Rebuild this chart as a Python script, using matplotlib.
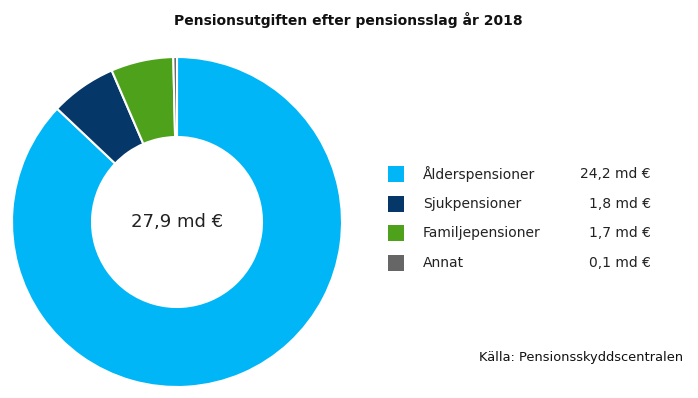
import matplotlib.pyplot as plt
from matplotlib.patches import Rectangle

# data
labels = ["Ålderspensioner", "Sjukpensioner", "Familjepensioner", "Annat"]
values = [24.2, 1.8, 1.7, 0.1]
value_labels = ["24,2 md €", "1,8 md €", "1,7 md €", "0,1 md €"]
total_label = "27,9 md €"
colors = ["#00b6f7", "#053769", "#4ea21b", "#666666"]

W, H = 698, 398
fig = plt.figure(figsize=(W / 100, H / 100), dpi=100)
plt.rcParams['font.family'] = ['Verdana', 'DejaVu Sans']

# donut
cx, cy, r = 177, 222, 165
ax = fig.add_axes([(cx - r) / W, (H - cy - r) / H, 2 * r / W, 2 * r / H])
ax.pie(values, colors=colors, startangle=90, counterclock=False, radius=1,
       wedgeprops=dict(width=80 / 165, edgecolor="white", linewidth=1.5))
ax.set_xlim(-1, 1)
ax.set_ylim(-1, 1)
ax.set_aspect("equal")
ax.axis("off")
ax.text(0, 0, total_label, ha="center", va="center", fontsize=13, color="#222222")

fig.text(348 / W, 1 - 20 / H, "Pensionsutgiften efter pensionsslag år 2018",
         ha="center", va="center", fontsize=10, fontweight="bold", color="#111111")

# legend
rows_y = [174, 204, 233, 263]
for lab, val, c, y in zip(labels, value_labels, colors, rows_y):
    fig.patches.append(Rectangle((388 / W, 1 - (y + 8) / H), 16 / W, 16 / H,
                                 transform=fig.transFigure, facecolor=c,
                                 edgecolor="none"))
    fig.text(423 / W, 1 - y / H, lab, ha="left", va="center", fontsize=10, color="#222222")
    fig.text(651 / W, 1 - y / H, val, ha="right", va="center", fontsize=10, color="#222222")

fig.text(683 / W, 1 - 358 / H, "Källa: Pensionsskyddscentralen",
         ha="right", va="center", fontsize=9.4, color="#111111")

fig.savefig("out.png", dpi=100)
